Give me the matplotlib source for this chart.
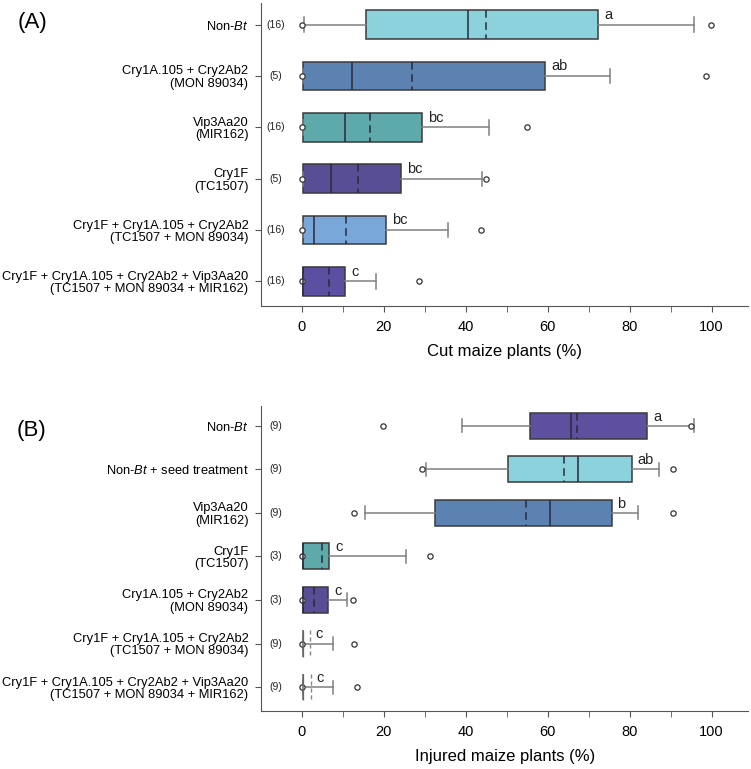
import matplotlib.pyplot as plt

plt.rcParams["font.family"] = "Liberation Sans"
plt.rcParams["mathtext.fontset"] = "custom"
plt.rcParams["mathtext.rm"] = "Liberation Sans"
plt.rcParams["mathtext.it"] = "Liberation Sans:italic"

# ---- panel A: cut maize plants (%)
A_LABELS = [
    "Non-$\\mathit{Bt}$",
    "Cry1A.105 + Cry2Ab2\n(MON 89034)",
    "Vip3Aa20\n(MIR162)",
    "Cry1F\n(TC1507)",
    "Cry1F + Cry1A.105 + Cry2Ab2\n(TC1507 + MON 89034)",
    "Cry1F + Cry1A.105 + Cry2Ab2 + Vip3Aa20\n(TC1507 + MON 89034 + MIR162)",
]
A_N = ["(16)", "(5)", "(16)", "(5)", "(16)", "(16)"]
A_Q1 = [15.6, 0.3, 0.3, 0.3, 0.3, 0.3]
A_MED = [40.6, 12.2, 10.6, 7.2, 2.9, 0.3]
A_MEAN = [45.0, 26.9, 16.5, 13.7, 10.8, 6.5]
A_Q3 = [72.4, 59.4, 29.3, 24.3, 20.5, 10.6]
A_WLO = [0.5, 0.3, 0.3, 0.3, 0.3, 0.3]
A_WHI = [95.7, 75.2, 45.6, 44.0, 35.6, 18.0]
A_FLIERS = [[0, 99.9], [0, 98.6], [0, 55.0], [0, 44.9], [0, 43.6], [0, 28.7]]
A_LETTERS = ["a", "ab", "bc", "bc", "bc", "c"]
A_COLORS = ["#8cd2dc", "#5b82b0", "#5ea9a9", "#574e96", "#7aa7da", "#5a4fa0"]

# ---- panel B: injured maize plants (%)
B_LABELS = [
    "Non-$\\mathit{Bt}$",
    "Non-$\\mathit{Bt}$ + seed treatment",
    "Vip3Aa20\n(MIR162)",
    "Cry1F\n(TC1507)",
    "Cry1A.105 + Cry2Ab2\n(MON 89034)",
    "Cry1F + Cry1A.105 + Cry2Ab2\n(TC1507 + MON 89034)",
    "Cry1F + Cry1A.105 + Cry2Ab2 + Vip3Aa20\n(TC1507 + MON 89034 + MIR162)",
]
B_N = ["(9)", "(9)", "(9)", "(3)", "(3)", "(9)", "(9)"]
B_Q1 = [55.6, 50.4, 32.6, 0.3, 0.3, 0.3, 0.3]
B_MED = [65.7, 67.4, 60.5, 0.3, 0.3, 0.3, 0.3]
B_MEAN = [67.1, 64.1, 54.6, 4.9, 2.9, 2.0, 2.2]
B_Q3 = [84.3, 80.5, 75.6, 6.7, 6.4, 0.3, 0.3]
B_WLO = [39.0, 30.4, 15.4, 0.3, 0.3, 0.3, 0.3]
B_WHI = [95.7, 87.1, 82.1, 25.3, 11.1, 7.7, 7.7]
B_FLIERS = [[19.9, 94.9], [29.2, 90.6], [12.7, 90.6], [0, 31.2], [0, 12.5], [0, 12.8], [0, 13.4]]
B_LETTERS = ["a", "ab", "b", "c", "c", "c", "c"]
B_COLORS = ["#5e509e", "#8cd2dc", "#5b82b0", "#5ea9a9", "#574e96", "#5a4fa0", "#5a4fa0"]

fig = plt.figure(figsize=(7.51, 7.69), dpi=100)
axA = fig.add_axes([0.3475, 0.602, 0.649, 0.394])
axB = fig.add_axes([0.3475, 0.0754, 0.649, 0.397])


def draw(ax, labels, n, q1, med, mean, q3, wlo, whi, fliers, letters, colors,
         width, xlabel):
    stats = [
        dict(q1=q1[i], med=med[i], mean=mean[i], q3=q3[i],
             whislo=wlo[i], whishi=whi[i], fliers=fliers[i])
        for i in range(len(labels))
    ]
    pos = list(range(len(labels)))
    bp = ax.bxp(
        stats, positions=pos, widths=width, orientation="horizontal",
        patch_artist=True, showmeans=True, meanline=True,
        boxprops=dict(edgecolor="#3a3a3a", linewidth=1.1),
        medianprops=dict(color="#2a2a3a", linewidth=1.1),
        meanprops=dict(color="#2a2a3a", linewidth=1.1, linestyle=(0, (5, 3))),
        whiskerprops=dict(color="#808080", linewidth=1.1),
        capprops=dict(color="#808080", linewidth=1.1),
        flierprops=dict(marker="o", markersize=3.8, markerfacecolor="white",
                        markeredgecolor="#333333", markeredgewidth=0.9),
    )
    for i, (patch, c) in enumerate(zip(bp["boxes"], colors)):
        patch.set_facecolor(c)
        # empty boxes (q1 == q3) are drawn only as thin grey lines
        if q1[i] == q3[i]:
            patch.set_edgecolor("#666666")
            patch.set_linewidth(0.9)
            bp["medians"][i].set_color("#666666")
            bp["means"][i].set_color("#888888")
            bp["means"][i].set_linestyle((0, (3, 2)))
            bp["means"][i].set_linewidth(1.0)
    for i in pos:
        ax.text(max(q3[i], mean[i]) + 1.4, i - 0.05, letters[i],
                fontsize=10.5, ha="left", va="bottom", color="#222")
        ax.text(-6.3, i, n[i], fontsize=7.5, ha="center", va="center",
                color="#222")

    ax.set_xlim(-10, 109)
    ax.set_yticks(pos)
    ax.set_yticklabels(labels, fontsize=9.3)
    for lbl in ax.get_yticklabels():
        lbl.set_linespacing(1.05)
    ax.set_xticks([0, 20, 40, 60, 80, 100])
    ax.set_xticks([10, 30, 50, 70, 90], minor=True)
    ax.tick_params(axis="x", which="both", length=4, labelsize=10.5,
                   color="#555", pad=6)
    ax.tick_params(axis="y", length=4, color="#555", pad=5)
    ax.spines[["top", "right"]].set_visible(False)
    ax.spines[["left", "bottom"]].set_color("#555")
    ax.set_xlabel(xlabel, fontsize=12, labelpad=7)


draw(axA, A_LABELS, A_N, A_Q1, A_MED, A_MEAN, A_Q3, A_WLO, A_WHI, A_FLIERS,
     A_LETTERS, A_COLORS, 0.56, "Cut maize plants (%)")
axA.set_ylim(5.48, -0.42)

draw(axB, B_LABELS, B_N, B_Q1, B_MED, B_MEAN, B_Q3, B_WLO, B_WHI, B_FLIERS,
     B_LETTERS, B_COLORS, 0.6, "Injured maize plants (%)")
axB.set_ylim(6.55, -0.46)

fig.text(0.024, 0.971, "(A)", fontsize=16, va="center", ha="left")
fig.text(0.022, 0.44, "(B)", fontsize=16, va="center", ha="left")

fig.savefig("out.png", dpi=100)
